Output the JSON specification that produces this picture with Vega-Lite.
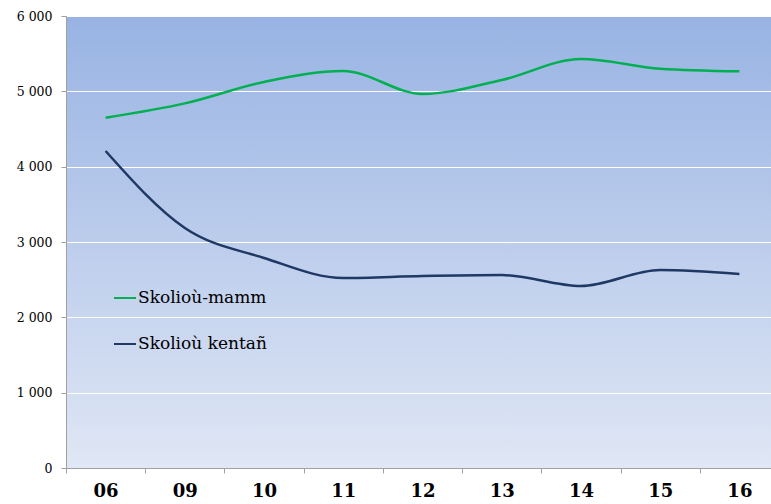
{
  "$schema": "https://vega.github.io/schema/vega-lite/v6.json",
  "width": 713,
  "height": 452,
  "autosize": {"type": "none"},
  "padding": {"left": 66, "top": 16, "right": 0, "bottom": 36},
  "background": "white",
  "config": {
    "view": {
      "stroke": null,
      "fill": {
        "gradient": "linear",
        "x1": 0, "y1": 0, "x2": 0, "y2": 1,
        "stops": [
          {"offset": 0, "color": "#98b3e3"},
          {"offset": 1, "color": "#e0e7f5"}
        ]
      }
    },
    "font": "DejaVu Serif, serif"
  },
  "data": {
    "values": [
      {"year": "06", "series": "Skolioù-mamm", "value": 4650},
      {"year": "09", "series": "Skolioù-mamm", "value": 4840},
      {"year": "10", "series": "Skolioù-mamm", "value": 5125},
      {"year": "11", "series": "Skolioù-mamm", "value": 5270},
      {"year": "12", "series": "Skolioù-mamm", "value": 4965},
      {"year": "13", "series": "Skolioù-mamm", "value": 5150},
      {"year": "14", "series": "Skolioù-mamm", "value": 5430},
      {"year": "15", "series": "Skolioù-mamm", "value": 5300},
      {"year": "16", "series": "Skolioù-mamm", "value": 5265},
      {"year": "06", "series": "Skolioù kentañ", "value": 4208},
      {"year": "09", "series": "Skolioù kentañ", "value": 3186},
      {"year": "10", "series": "Skolioù kentañ", "value": 2788},
      {"year": "11", "series": "Skolioù kentañ", "value": 2522},
      {"year": "12", "series": "Skolioù kentañ", "value": 2549},
      {"year": "13", "series": "Skolioù kentañ", "value": 2562},
      {"year": "14", "series": "Skolioù kentañ", "value": 2416},
      {"year": "15", "series": "Skolioù kentañ", "value": 2628},
      {"year": "16", "series": "Skolioù kentañ", "value": 2575}
    ]
  },
  "mark": {"type": "line", "interpolate": "monotone", "strokeWidth": 2.5},
  "encoding": {
    "x": {
      "field": "year",
      "type": "ordinal",
      "sort": null,
      "scale": {"type": "band", "paddingInner": 0, "paddingOuter": 0},
      "axis": {
        "title": null,
        "labelAngle": 0,
        "labelFont": "DejaVu Serif, serif",
        "labelFontSize": 18,
        "labelFontWeight": "bold",
        "labelColor": "black",
        "labelPadding": 9,
        "tickBand": "extent",
        "tickSize": 5,
        "tickColor": "#a0a0a0",
        "domainColor": "#a0a0a0",
        "grid": false
      }
    },
    "y": {
      "field": "value",
      "type": "quantitative",
      "scale": {"domain": [0, 6000], "nice": false},
      "axis": {
        "title": null,
        "values": [0, 1000, 2000, 3000, 4000, 5000, 6000],
        "labelExpr": "replace(format(datum.value, ','), ',', ' ')",
        "labelFont": "DejaVu Serif, serif",
        "labelFontSize": 12.5,
        "labelColor": "black",
        "labelPadding": 9,
        "tickSize": 5,
        "tickColor": "#a0a0a0",
        "domainColor": "#a0a0a0",
        "grid": true,
        "gridColor": "white",
        "gridOpacity": 1,
        "gridWidth": 1
      }
    },
    "color": {
      "field": "series",
      "type": "nominal",
      "scale": {"domain": ["Skolioù-mamm", "Skolioù kentañ"], "range": ["#00b050", "#1f3864"]},
      "legend": {
        "title": null,
        "orient": "none",
        "legendX": 47,
        "legendY": 270,
        "symbolType": "stroke",
        "symbolSize": 484,
        "symbolStrokeWidth": 2,
        "labelFont": "DejaVu Serif, serif",
        "labelFontSize": 17,
        "labelColor": "black",
        "labelOffset": 1,
        "rowPadding": 26
      }
    }
  }
}
